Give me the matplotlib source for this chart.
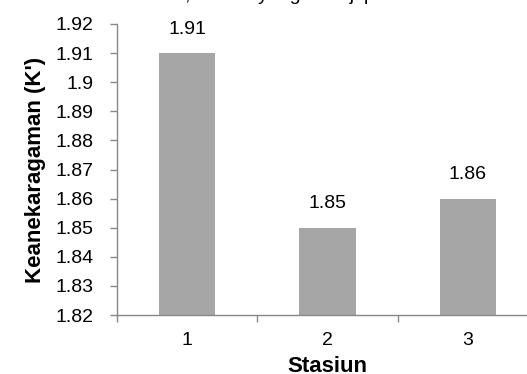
import numpy as np
import matplotlib.pyplot as plt

plt.rcParams['font.family'] = ['Liberation Sans', 'DejaVu Sans']

# data
stasiun = ['1', '2', '3']
keanekaragaman = [1.91, 1.85, 1.86]
y_ticks = [1.82, 1.83, 1.84, 1.85, 1.86, 1.87, 1.88, 1.89, 1.90, 1.91, 1.92]

W, H = 527, 374
fig = plt.figure(figsize=(W / 100, H / 100), dpi=100)

# sisa teks dokumen yang terpotong di bagian atas
fig.text(0.0, 1 + 0.5 / H, "dalam Tabel 5 di atas, indeks yang tersaji pada Gambar 5",
         fontsize=14, va='baseline', ha='left', color='black')

# area plot meluas ke kanan melewati tepi gambar (screenshot terpotong)
ax = fig.add_axes([117 / W, (H - 315) / H, 421 / W, (315 - 24) / H])

x = np.arange(len(stasiun))
ax.bar(x, keanekaragaman, width=0.4, color='#a6a6a6', zorder=2)

for xi, v in zip(x, keanekaragaman):
    ax.annotate(f"{v:.2f}", (xi, v), xytext=(0, 11), textcoords='offset points',
                ha='center', va='bottom', fontsize=14)

ax.set_ylim(1.82, 1.92)
ax.set_yticks(y_ticks)
ax.set_yticklabels([f"{t:g}" for t in np.round(y_ticks, 2)], fontsize=14)
ax.set_xlim(-0.5, len(stasiun) - 0.5)
ax.set_xticks(x)
ax.set_xticklabels(stasiun, fontsize=14)
ax.set_xticks(np.arange(-0.5, len(stasiun)), minor=True)
ax.tick_params(axis='x', which='major', length=0, pad=12)
ax.tick_params(axis='x', which='minor', length=5, color='#888888', width=1)
ax.tick_params(axis='y', length=5, color='#888888', width=1, pad=12)

for s in ['top', 'right']:
    ax.spines[s].set_visible(False)
for s in ['left', 'bottom']:
    ax.spines[s].set_color('#888888')
    ax.spines[s].set_linewidth(1)

ax.set_ylabel("Keanekaragaman (K')", fontsize=16, fontweight='bold', labelpad=7)
ax.set_xlabel("Stasiun", fontsize=16, fontweight='bold', labelpad=5)

fig.savefig('out.png', dpi=100)
